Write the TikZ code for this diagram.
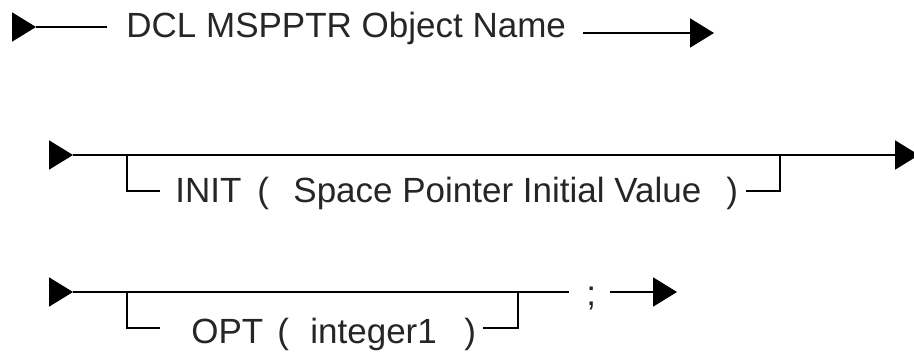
\documentclass[tikz,border=0pt]{standalone}
\usepackage{fontspec}
\setmainfont{Liberation Sans}
\usepackage{tikz}
\usetikzlibrary{arrows.meta}

\tikzset{
  rail/.style={line width=1pt},
  railhead/.style={rail, -{Triangle[length=12pt,width=14.5pt]}},
  word/.style={anchor=base west, inner sep=0pt, text=black!85,
    font=\fontsize{17.5}{20}\selectfont}
}

\begin{document}
\begin{tikzpicture}[x=0.5pt, y=-0.5pt]
        \useasboundingbox (0,0) rectangle (914,352);

        % DCL MSPPTR Object Name
        \coordinate (a0) at (16,27);
        \coordinate (a1) at (36,27);
        \coordinate (a2) at (107,27);
        \node [word] (dcl) at (126,38) {DCL MSPPTR Object Name};
        \coordinate (b0) at (583,33);
        \coordinate (b1) at (714,33);
        \draw [railhead] (a0) -- (a1);
        \draw [rail] (a1) -- (a2);
        \draw [railhead] (b0) -- (b1);

        % main line, INIT
        \coordinate (c0) at (53,155);
        \coordinate (c1) at (73,155);
        \coordinate (c2) at (919,155);
        \draw [railhead] (c0) -- (c1);
        \draw [railhead] (c1) -- (c2);

        % INIT ( Space Pointer Initial Value )
        \coordinate (c3) at (127,155);
        \coordinate (c5) at (160,191);
        \coordinate (c6) at (746,191);
        \coordinate (c8) at (780,155);
        \draw [rail] (c3) |- (c5);
        \draw [rail] (c6) -| (c8);
        \node [word] (init) at (175,203) {INIT};
        \node [word] (initopen) at (257,203) {(};
        \node [word] (spvalue) at (293,203) {Space Pointer Initial Value};
        \node [word] (initclose) at (726,203) {)};

        % main line, OPT
        \coordinate (d0) at (53,292);
        \coordinate (d1) at (73,292);
        \coordinate (d2) at (569,292);
        \draw [railhead] (d0) -- (d1);
        \draw [rail] (d1) -- (d2);

        % OPT ( integer1 )
        \coordinate (d3) at (127,292);
        \coordinate (d5) at (160,328);
        \coordinate (d6) at (483,328);
        \coordinate (d8) at (518,292);
        \draw [rail] (d3) |- (d5);
        \draw [rail] (d6) -| (d8);
        \node [word] (opt) at (191,343) {OPT};
        \node [word] (optopen) at (277,343) {(};
        \node [word] (intone) at (310,343) {integer1};
        \node [word] (optclose) at (464,343) {)};

        % ;
        \node [word] (semi) at (586,305) {;};
        \coordinate (d9) at (610,292);
        \coordinate (d10) at (677,292);
        \draw [railhead] (d9) -- (d10);

      \end{tikzpicture}
\end{document}
